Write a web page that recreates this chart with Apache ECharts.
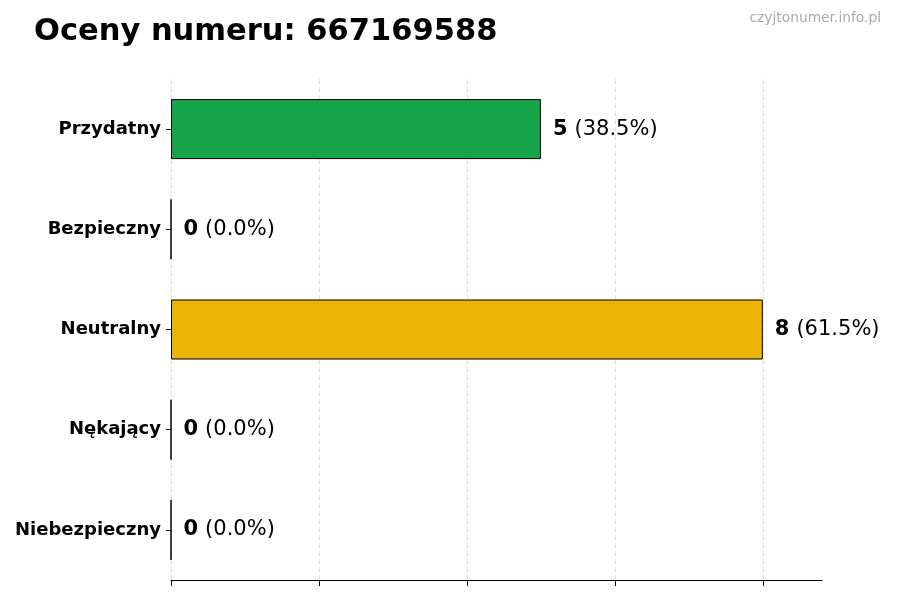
<!DOCTYPE html>
<html style="height: 100%">
<head>
<meta charset="UTF-8">
<title>Oceny numeru</title>
<script src="https://cdn.jsdelivr.net/npm/echarts@6/dist/echarts.min.js"></script>
</head>
<body style="height: 100%; margin: 0; background: #fff">
<div id="container" style="width: 900px; height: 600px"></div>
<script type="text/javascript">
var categories = ['Przydatny', 'Bezpieczny', 'Neutralny', 'Nękający', 'Niebezpieczny'];
var counts = [5, 0, 8, 0, 0];
var percents = ['38.5', '0.0', '61.5', '0.0', '0.0'];
var barColors = ['#16a34a', '#16a34a', '#eab308', '#eab308', '#dc2626'];
var xTicks = [0, 2, 4, 6, 8];
var xMax = 8.8;

var dom = document.getElementById("container");
var myChart = echarts.init(dom);

var data = [];
for (var i = 0; i < categories.length; i++) {
    data.push({
        value: counts[i],
        itemStyle: { color: barColors[i] }
    });
}

var option = {
    animation: false,
    textStyle: { fontFamily: 'DejaVu Sans' },
    title: [{
        text: 'Oceny numeru: 667169588',
        left: 29,
        top: 12,
        textStyle: { fontSize: 30.5, fontWeight: 'bold', color: '#000', fontFamily: 'DejaVu Sans' }
    }, {
        text: 'czyjtonumer.info.pl',
        right: 14,
        top: 6,
        textStyle: { fontSize: 13.8, fontWeight: 'normal', color: '#aaaaaa', fontFamily: 'DejaVu Sans' }
    }],
    grid: {
        left: 171,
        right: 78,
        top: 79,
        bottom: 20,
        containLabel: false
    },
    xAxis: {
        type: 'value',
        min: 0,
        max: xMax,
        interval: 2,
        axisLine: { show: true, lineStyle: { color: '#000', width: 1.2 } },
        axisTick: { show: true, length: 6, customValues: xTicks, lineStyle: { color: '#000' } },
        axisLabel: { show: false },
        splitLine: { show: true, lineStyle: { color: '#d9d9d9', type: [5, 3], width: 0.8 } }
    },
    yAxis: {
        type: 'category',
        inverse: true,
        data: categories,
        axisLine: { show: false },
        axisTick: { show: true, length: 5, alignWithLabel: true, lineStyle: { color: '#000' } },
        axisLabel: { fontSize: 18, fontWeight: 'bold', color: '#000', margin: 10, fontFamily: 'DejaVu Sans' },
        splitLine: { show: false }
    },
    series: [{
        type: 'bar',
        data: data,
        barWidth: 60,
        itemStyle: { borderColor: '#000', borderWidth: 1 },
        label: {
            show: true,
            position: 'right',
            distance: 12,
            formatter: function (p) {
                return '{b|' + counts[p.dataIndex] + '}{n|(' + percents[p.dataIndex] + '%)}';
            },
            rich: {
                b: { fontSize: 21, fontWeight: 'bold', color: '#000', fontFamily: 'DejaVu Sans', padding: [0, 7, 0, 0] },
                n: { fontSize: 21, color: '#000', fontFamily: 'DejaVu Sans' }
            }
        }
    }]
};

myChart.setOption(option, true);
</script>
</body>
</html>
